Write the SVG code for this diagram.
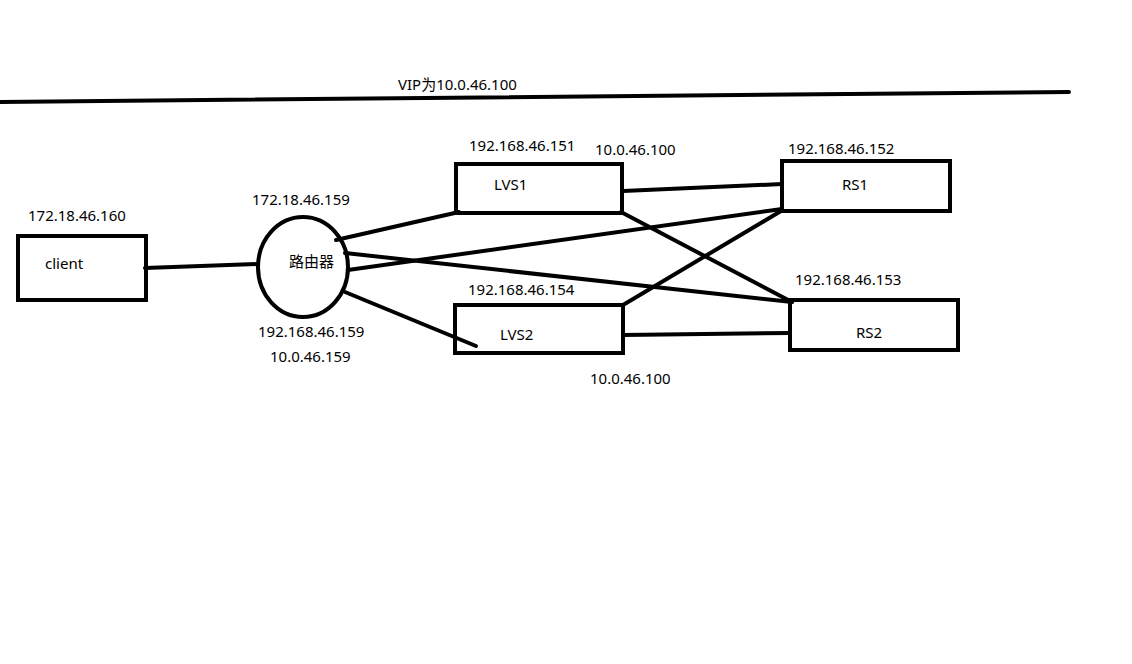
<svg xmlns="http://www.w3.org/2000/svg" width="1132" height="664" viewBox="0 0 1132 664">
<style>
.box{fill:none;stroke:#000;stroke-width:4}
.ln{stroke:#000;stroke-width:4;fill:none;stroke-linecap:round}
text{font-family:"Noto Sans","Noto Sans CJK SC",sans-serif;font-size:15px;fill:#000}
</style>
<rect width="1132" height="664" fill="#fff"/>
<g id="vip">
<line class="ln" x1="0" y1="102" x2="1069" y2="92"/>
<text x="398" y="90">VIP为10.0.46.100</text>
</g>
<g id="connectors">
<line class="ln" x1="145" y1="268" x2="258" y2="264"/>
<line class="ln" x1="336" y1="240" x2="459" y2="212"/>
<line class="ln" x1="348" y1="270" x2="782" y2="209"/>
<line class="ln" x1="345" y1="253" x2="792" y2="302"/>
<line class="ln" x1="345" y1="292" x2="476" y2="346"/>
<line class="ln" x1="623" y1="191" x2="782" y2="184"/>
<line class="ln" x1="621" y1="212" x2="792" y2="302"/>
<line class="ln" x1="623" y1="305" x2="781" y2="211"/>
<line class="ln" x1="623" y1="335" x2="790" y2="333"/>
</g>
<g id="client">
<rect class="box" x="18" y="236" width="128" height="64"/>
<text x="45" y="269">client</text>
<text x="28" y="221">172.18.46.160</text>
</g>
<g id="router">
<ellipse class="box" cx="303" cy="267" rx="45" ry="50"/>
<text x="289" y="267">路由器</text>
<text x="252" y="205">172.18.46.159</text>
<text x="258" y="337">192.168.46.159</text>
<text x="270" y="362">10.0.46.159</text>
</g>
<g id="lvs1">
<rect class="box" x="456" y="164" width="166" height="49"/>
<text x="494" y="190">LVS1</text>
<text x="469" y="151">192.168.46.151</text>
<text x="595" y="155">10.0.46.100</text>
</g>
<g id="lvs2">
<rect class="box" x="455" y="305" width="168" height="48"/>
<text x="500" y="340">LVS2</text>
<text x="468" y="295">192.168.46.154</text>
<text x="590" y="384">10.0.46.100</text>
</g>
<g id="rs1">
<rect class="box" x="782" y="161" width="168" height="50"/>
<text x="842" y="190">RS1</text>
<text x="788" y="154">192.168.46.152</text>
</g>
<g id="rs2">
<rect class="box" x="790" y="300" width="168" height="50"/>
<text x="856" y="338">RS2</text>
<text x="795" y="285">192.168.46.153</text>
</g>
</svg>
